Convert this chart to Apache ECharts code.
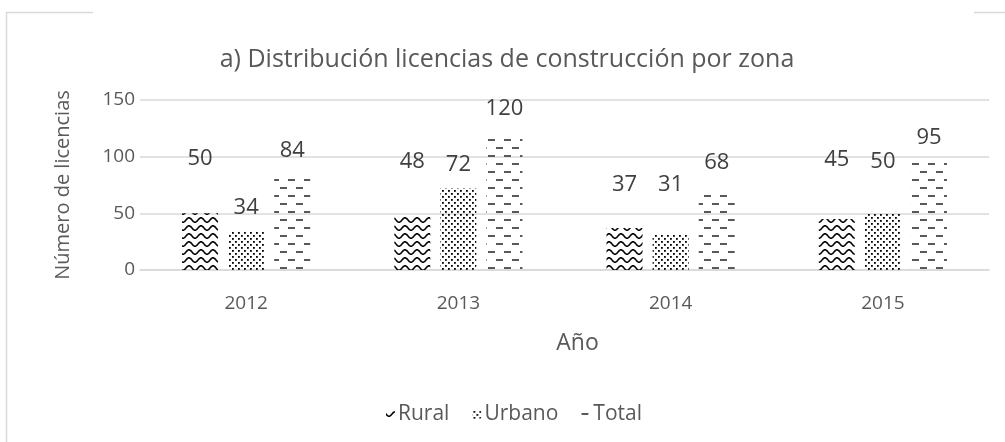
<!DOCTYPE html>
<html>
<head>
<meta charset="utf-8">
<script src="https://cdn.jsdelivr.net/npm/echarts@6/dist/echarts.min.js"></script>
<style>
html,body{margin:0;padding:0;background:#fff;}
#chart{width:1005px;height:442px;}
</style>
</head>
<body>
<div id="chart"></div>
<script>
const categories = ['2012', '2013', '2014', '2015'];
const rural = [50, 48, 37, 45];
const urbano = [34, 72, 31, 50];
const total = [84, 120, 68, 95];
const seriesNames = ['Rural', 'Urbano', 'Total'];
const yTicks = [0, 50, 100, 150];

// layout only: label lift above each bar (the source labels were placed by hand)
const LABEL_LIFT = {
  Rural: [44, 43, 32, 48],
  Urbano: [13, 13, 39, 41],
  Total: [13, 14, 19, 14]
};

function makeCanvas(w, h, draw) {
  const c = document.createElement('canvas');
  c.width = w; c.height = h;
  const ctx = c.getContext('2d');
  draw(ctx, w, h);
  return c;
}
const wavePattern = makeCanvas(12, 8, (ctx, w, h) => {
  ctx.strokeStyle = '#000';
  ctx.lineWidth = 1.6;
  ctx.beginPath();
  for (let x = -1; x <= w + 1; x += 0.5) {
    const y = 4 + 2.2 * Math.sin(2 * Math.PI * x / w);
    if (x === -1) ctx.moveTo(x, y); else ctx.lineTo(x, y);
  }
  ctx.stroke();
});
const dotPattern = makeCanvas(6, 6, (ctx) => {
  ctx.fillStyle = '#000';
  ctx.fillRect(1, 1, 1.8, 1.8);
  ctx.fillRect(4, 4, 1.8, 1.8);
});
const dashPattern = makeCanvas(16, 16, (ctx) => {
  ctx.fillStyle = '#595959';
  ctx.fillRect(0, 3, 7, 2);
  ctx.fillRect(8, 11, 7, 2);
});

const font = '"Open Sans", "Noto Sans", sans-serif';
const chart = echarts.init(document.getElementById('chart'), null, {renderer: 'canvas'});

function barSeries(name, values, pattern) {
  const lift = LABEL_LIFT[name];
  return {
    name: name,
    type: 'bar',
    data: values.map((v, i) => ({ value: v, label: { distance: lift[i] } })),
    barWidth: 36,
    barGap: '28%',
    itemStyle: { color: { image: pattern, repeat: 'repeat' } },
    label: {
      show: true, position: 'top',
      color: '#404040', fontSize: 22, fontFamily: font
    }
  };
}

chart.setOption({
  animation: false,
  backgroundColor: '#fff',
  title: {
    text: 'a) Distribución licencias de construcción por zona',
    left: 502, top: 42, textAlign: 'center',
    textStyle: { color: '#595959', fontSize: 25, fontWeight: 'normal', fontFamily: font }
  },
  legend: {
    data: seriesNames,
    left: 381, top: 399,
    itemWidth: 9, itemHeight: 9, itemGap: 23,
    textStyle: { color: '#595959', fontSize: 21, fontFamily: font, padding: [0, 0, 0, -2] }
  },
  grid: { left: 140, right: 16, top: 100, bottom: 172, containLabel: false },
  xAxis: {
    type: 'category', data: categories,
    name: 'Año', nameLocation: 'middle', nameGap: 62,
    nameTextStyle: { color: '#595959', fontSize: 23, fontFamily: font, padding: [0, 0, 0, 26] },
    axisLine: { lineStyle: { color: '#d9d9d9', width: 1.5 } },
    axisTick: { show: false },
    axisLabel: { color: '#595959', fontSize: 19, fontFamily: font, margin: 24 }
  },
  yAxis: {
    type: 'value', min: yTicks[0], max: yTicks[yTicks.length - 1], interval: 50,
    name: 'Número de licencias', nameLocation: 'middle', nameGap: 67,
    nameTextStyle: { color: '#595959', fontSize: 20, fontFamily: font },
    axisLine: { show: false }, axisTick: { show: false },
    axisLabel: { color: '#595959', fontSize: 19, fontFamily: font, margin: 5 },
    splitLine: { lineStyle: { color: '#d9d9d9', width: 1.5 } }
  },
  graphic: [
    { type: 'line', shape: { x1: 6.5, y1: 12, x2: 6.5, y2: 442 }, style: { stroke: '#d9d9d9', lineWidth: 1.5 } },
    { type: 'line', shape: { x1: 6, y1: 12.5, x2: 93, y2: 12.5 }, style: { stroke: '#d9d9d9', lineWidth: 1.5 } },
    { type: 'line', shape: { x1: 974, y1: 12.5, x2: 1005, y2: 12.5 }, style: { stroke: '#d9d9d9', lineWidth: 1.5 } }
  ],
  series: [
    barSeries(seriesNames[0], rural, wavePattern),
    barSeries(seriesNames[1], urbano, dotPattern),
    barSeries(seriesNames[2], total, dashPattern)
  ]
});
</script>
</body>
</html>
